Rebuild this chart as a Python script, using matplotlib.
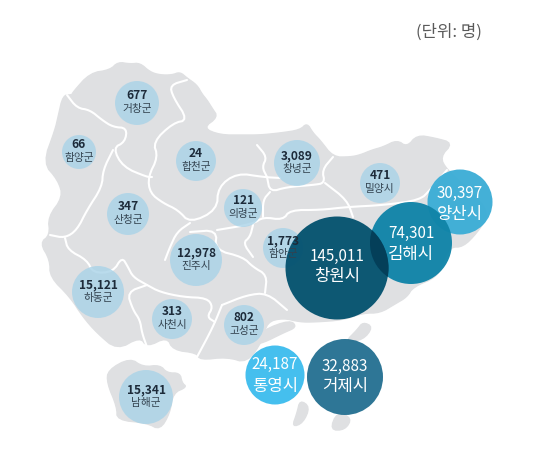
import matplotlib
matplotlib.use("Agg")
import matplotlib.pyplot as plt
from matplotlib.patches import Polygon, Circle

plt.rcParams['font.family'] = ['Noto Sans CJK KR', 'DejaVu Sans']

# data
small_names = ['거창군','함양군','합천군','창녕군','밀양시','산청군','의령군','함안군','진주시','하동군','사천시','고성군','남해군']
small_values = ['677','66','24','3,089','471','347','121','1,773','12,978','15,121','313','802','15,341']
large_names = ['양산시','김해시','창원시','통영시','거제시']
large_values = ['30,397','74,301','145,011','24,187','32,883']

# layout (pixels)
small_x = [137,79,196,297,380,128,243,283,196,98,172,244,146]
small_y = [103,152,161,163,183,214,208,248,260,292,319,325,397]
small_r = [22,17,20,23,20,21,19,20,26,26,20,20,27]
large_x = [460,411,337,275,345]
large_y = [202,243,268,375,377]
large_r = [32.5,41,51.5,29.5,38]
large_c = ['#3cadd6','#1084a8','#04526f','#45bfee','#236f90']
large_a = [0.96,0.96,0.96,1,0.95]
large_dy1 = [-9,-10,-12,-11,-11]
large_dy2 = [12,12,9,11,10]

mainland = [(118,62),(130,64),(140,63),(150,72),(160,75),(172,75),(180,72),(187,78),(197,85),(202,94),(207,100),(212,108),(218,117),(203,128),(220,135),
 (243,135),(260,135),(280,133),(300,130),(307,123),(313,133),(320,140),(333,157),(350,157),(360,155),(372,150),(383,147),(397,140),
 (407,147),(417,135),(435,138),(453,143),(440,157),(447,170),(470,190),(490,213),(477,233),(463,247),(450,247),(443,262),(437,277),
 (413,287),(407,297),(395,304),(380,313),(363,313),(343,320),(315,322),(300,322),(283,318),(267,322),(263,340),(247,363),
 (227,357),(200,360),(197,353),(173,350),(167,337),(147,347),(140,337),(117,350),(97,333),(83,317),(70,297),
 (50,277),(50,260),(40,243),(50,235),(48,217),(63,197),(58,180),(43,163),(55,130),(58,117),(63,95),(72,95),
 (73,92),(90,73),(110,70)]
namhae = [(108,370),(130,358),(143,367),(160,365),(167,373),(180,373),(182,383),(187,387),(173,393),(170,413),
 (160,430),(147,423),(117,420),(117,407),(107,383)]
islands = [[(263,330),(290,320),(297,327),(283,333),(263,343),(250,345)],
 [(357,330),(363,322),(373,327),(363,340),(345,342)],
 [(300,400),(310,407),(303,423),(292,427),(297,413)],
 [(337,412),(352,418),(345,430),(330,430)]]
borders = [
 [(67,95),(77,108),(90,110),(102,120),(113,127),(127,128),(125,142),(113,148),(123,167),(147,177),(152,177)],
 [(113,150),(103,170),(102,187),(87,210),(77,230),(65,238),(50,235)],
 [(187,80),(170,85),(173,97),(188,120),(173,123),(153,142),(158,157),(148,177),(150,193),(163,203),(178,210),
  (190,223),(217,210),(218,187),(237,173),(263,177),(280,178)],
 [(257,145),(267,157),(262,167),(267,177)],
 [(190,223),(177,232),(170,247),(165,260)],
 [(65,238),(68,250),(87,260),(93,273),(113,272),(122,257),(128,267),(133,277),(147,285),(160,292),(183,297),
  (207,298),(213,307),(207,317),(215,322)],
 [(147,285),(127,292),(133,310),(140,320),(142,333),(147,347)],
 [(190,232),(217,230),(215,250),(243,257),(253,267),(267,275),(265,293)],
 [(222,305),(247,295),(267,293),(287,310)],
 [(222,305),(213,327),(197,357)],
 [(253,225),(250,237),(243,243),(253,257)],
 [(217,230),(253,224),(263,217),(283,220),(290,210),(320,210),(347,207),(385,205),(420,200),(430,190),(447,170)],
 [(267,177),(270,192),(287,187),(313,185),(325,183),(322,170),(333,157)],
 [(325,183),(347,200),(353,217)],
 [(270,192),(263,200),(263,217)],
]

def soften(pts, closed=False, n=2):
    # corner cutting, so the traced outlines lose their hard vertices
    for _ in range(n):
        out = [pts[0]] if not closed else []
        m = len(pts)
        for i in range(m if closed else m-1):
            a, b = pts[i], pts[(i+1) % m]
            out.append((0.75*a[0]+0.25*b[0], 0.75*a[1]+0.25*b[1]))
            out.append((0.25*a[0]+0.75*b[0], 0.25*a[1]+0.75*b[1]))
        if not closed:
            out.append(pts[-1])
        pts = out
    return pts

fig = plt.figure(figsize=(5.5,4.68), dpi=100)
ax = fig.add_axes([0,0,1,1])
ax.set_xlim(0,550); ax.set_ylim(468,0); ax.axis('off')

land = '#dfe0e2'
for poly in [mainland, namhae] + islands:
    ax.add_patch(Polygon(soften(poly, True), closed=True, fc=land, ec=land, lw=1, zorder=1))
for b in borders:
    ax.plot(*zip(*soften(b)), color='white', lw=1.5, solid_joinstyle='round', solid_capstyle='round', zorder=2)

for n,v,x,y,r in zip(small_names, small_values, small_x, small_y, small_r):
    ax.add_patch(Circle((x,y), r, fc='#a9d3e8', ec='none', alpha=0.8, zorder=3))
    ax.text(x, y-7.5, v, ha='center', va='center', fontsize=8.6, fontweight='bold', color='#1d2b3a', zorder=7)
    ax.text(x, y+6, n, ha='center', va='center', fontsize=7.7, color='#33424f', zorder=7)

circles = {}
for i,(x,y,r,c,a) in enumerate(zip(large_x, large_y, large_r, large_c, large_a)):
    p = Circle((x,y), r, fc=c, ec='none', alpha=a, zorder=4+i*0.1)
    ax.add_patch(p); circles[large_names[i]] = p

# darker lens where Changwon overlaps Gimhae
lens = Circle((large_x[1],large_y[1]), large_r[1], fc='#043f59', ec='none', zorder=4.5)
ax.add_patch(lens)
lens.set_clip_path(circles['창원시'])

for n,v,x,y,d1,d2 in zip(large_names, large_values, large_x, large_y, large_dy1, large_dy2):
    ax.text(x, y+d1, v, ha='center', va='center', fontsize=10.9, color='white', zorder=8)
    ax.text(x, y+d2, n, ha='center', va='center', fontsize=12, color='white', zorder=8)

ax.text(449, 32, '(단위: 명)', ha='center', va='center', fontsize=12, color='#5a5a5a')
fig.savefig('out.png', dpi=100)
